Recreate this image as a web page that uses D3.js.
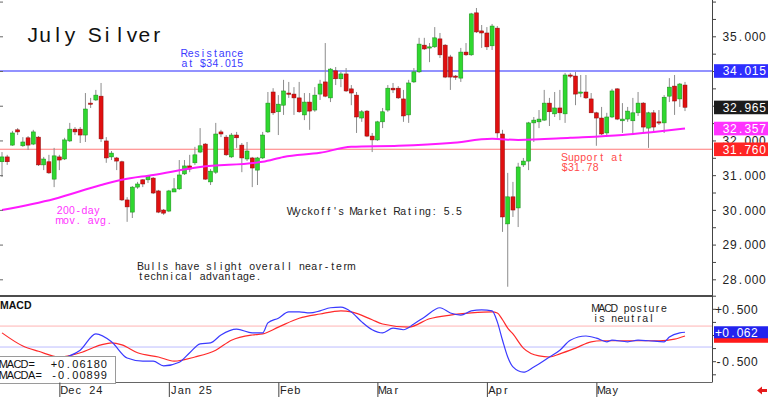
<!DOCTYPE html>
<html><head><meta charset="utf-8">
<script src="https://cdn.jsdelivr.net/npm/d3@7"></script>
<style>
body{margin:0;background:#fff}
svg{display:block;font-family:"Liberation Sans",Arial,sans-serif}
</style></head><body>
<svg id="chart" width="768" height="397"></svg>
<script>
// small attr helper, like jetpack's .at()
d3.selection.prototype.at = function(o){
  for (var k in o) this.attr(k, o[k])
  return this
}
// the chart software sets text in fixed-width cells: one x per character, glyph centred in it
d3.selection.prototype.mono = function(str, x0, adv){
  return this.attr('x', Array.from(str).map((c, k) => (x0 + adv * (k + 0.5)).toFixed(1)).join(' '))
    .attr('text-anchor', 'middle').text(str)
}

// daily candles, oldest first
var opens  = [31.40,31.54,31.88,32.32,31.86,32.09,31.91,32.11,31.31,31.40,30.90,31.54,31.48,32.00,32.34,32.34,32.17,33.09,33.18,33.29,32.00,31.54,31.51,31.40,30.30,29.95,30.67,30.88,30.88,30.93,30.56,30.01,29.98,30.53,30.62,31.05,31.28,31.37,31.68,31.91,30.82,31.10,32.26,32.11,31.54,32.17,31.88,31.48,31.51,31.16,31.51,32.26,33.41,32.84,33.03,33.38,33.35,33.24,32.75,33.12,32.89,33.35,33.70,33.24,34.02,33.79,33.93,33.50,33.32,32.66,32.86,32.14,32.03,32.55,32.89,33.52,33.52,33.21,32.75,33.70,33.99,34.76,34.68,34.71,34.94,34.76,34.42,33.87,33.81,34.56,34.48,35.69,35.17,35.11,34.74,35.25,32.20,29.61,30.39,30.07,31.31,31.42,32.52,32.55,32.60,33.09,32.78,32.95,32.78,33.90,33.87,33.38,33.41,33.21,32.81,32.66,32.23,32.69,33.50,32.58,32.63,32.58,32.81,33.09,32.37,32.81,32.55,32.52,33.29,33.58,33.21,33.61]
var highs  = [31.68,31.60,32.29,32.37,32.11,32.14,32.32,32.14,31.54,31.60,31.80,31.60,32.09,32.52,32.40,32.40,33.38,33.24,33.47,33.67,32.11,31.71,31.54,31.43,30.38,30.70,30.82,30.90,31.02,30.96,30.59,30.04,30.59,30.93,31.45,31.45,31.60,31.83,32.37,31.94,31.19,32.52,32.32,32.17,32.23,32.26,31.94,31.97,31.54,31.54,32.26,33.41,33.52,33.32,33.76,33.70,33.55,33.70,33.38,33.38,33.55,33.76,34.82,34.10,34.13,33.99,34.10,33.61,33.41,32.89,32.89,32.23,32.58,32.95,33.61,33.67,33.58,33.47,33.76,34.10,34.97,34.97,34.82,35.28,35.11,34.79,34.48,33.90,34.68,34.82,35.69,35.83,35.34,35.28,35.37,35.31,32.32,31.08,30.82,31.37,31.51,32.55,32.69,32.89,33.47,33.24,33.41,33.47,33.96,33.96,33.99,33.90,33.90,33.38,32.84,32.98,32.81,33.50,33.52,33.09,32.98,33.24,33.41,33.12,32.84,32.89,32.89,33.32,33.81,33.90,33.67,33.70]
var lows   = [30.96,31.31,31.86,32.17,31.83,31.74,31.88,31.28,31.16,31.05,30.67,31.16,31.45,31.97,32.17,31.94,31.97,32.95,33.15,31.97,31.37,31.45,31.16,30.27,29.67,29.78,30.62,30.67,30.79,30.47,29.92,29.87,29.95,30.53,30.59,31.02,31.10,31.31,31.65,30.88,30.73,31.05,32.11,31.57,31.51,31.80,31.10,31.42,30.67,30.73,31.48,32.23,32.75,32.17,32.75,33.24,32.75,32.81,32.60,32.32,32.84,33.18,33.26,33.12,33.61,33.55,33.41,33.03,32.23,32.55,32.11,31.68,32.00,32.37,32.84,33.38,33.21,32.55,32.52,33.67,33.96,34.62,34.27,34.68,34.39,33.81,33.47,33.76,33.70,34.45,34.45,35.11,34.68,34.62,34.62,32.09,29.38,27.80,29.81,29.52,31.25,31.16,31.97,32.37,32.58,32.43,32.69,32.60,32.52,33.81,33.03,33.26,33.21,32.81,31.86,32.17,32.17,32.66,32.60,32.23,32.55,32.17,32.72,32.23,31.80,32.23,32.46,32.23,33.12,32.75,32.98,32.86]
var closes = [31.54,31.40,32.23,32.26,31.97,31.88,32.26,31.31,31.48,31.08,31.57,31.45,32.03,32.34,32.26,32.17,32.92,33.06,33.32,32.06,31.51,31.65,31.42,30.30,30.10,30.67,30.76,30.76,30.99,30.50,29.95,29.92,30.56,30.62,31.02,31.28,31.19,31.60,31.86,30.90,31.13,32.20,32.20,31.60,32.17,32.09,31.51,31.71,31.22,31.51,32.17,33.09,32.81,33.06,33.44,33.35,33.24,32.84,33.12,32.86,33.32,33.64,33.29,34.07,33.79,33.93,33.44,33.38,32.69,32.84,32.14,32.03,32.55,32.84,33.52,33.47,33.24,32.72,33.67,33.99,34.79,34.65,34.71,34.97,34.48,33.84,33.84,33.84,34.56,34.48,35.66,35.14,35.11,34.71,35.31,32.23,29.81,30.39,30.01,31.25,31.42,32.52,32.60,32.63,33.09,32.84,32.95,32.81,33.90,33.87,33.35,33.41,33.24,32.81,32.66,32.20,32.69,33.44,32.63,32.63,32.86,32.81,33.09,32.40,32.81,32.40,32.52,33.26,33.55,33.15,33.64,32.97]

// 200-day moving average read at candle indices [index, value]
var maPts = [[0,30.01],[10,30.33],[19,30.73],[23,30.88],[29,31.02],[38,31.25],[50,31.40],[54,31.54],[61,31.66],[67,31.83],[76,31.86],[86,31.94],[94,32.06],[99,32.03],[109,32.09],[119,32.17],[125,32.26],[131,32.36]]

// MACD and its signal line [index, value]
var macdPts = [[0,-0.47],[4,-0.58],[8,-0.62],[12,-0.43],[15,-0.28],[18,0.03],[21,-0.12],[24,-0.43],[27,-0.49],[29,-0.49],[31,-0.58],[34,-0.51],[36,-0.33],[38,-0.16],[40,-0.14],[42,0.01],[45,0.12],[48,0.05],[50,0.05],[51,0.24],[53,0.33],[55,0.45],[57,0.45],[59,0.43],[61,0.47],[63,0.53],[65,0.54],[67,0.45],[69,0.26],[71,0.11],[73,0.05],[75,0.14],[77,0.11],[79,0.22],[81,0.35],[84,0.53],[86,0.43],[88,0.39],[90,0.47],[92,0.49],[94,0.47],[95,0.26],[96,-0.09],[97,-0.41],[98,-0.60],[100,-0.70],[102,-0.60],[105,-0.41],[107,-0.28],[109,-0.09],[112,-0.01],[114,-0.05],[116,-0.12],[117,-0.09],[120,-0.12],[122,-0.09],[124,-0.10],[127,-0.12],[128,-0.03],[130,0.05],[131,0.062]]
var signalPts = [[0,0.05],[4,-0.20],[7,-0.30],[11,-0.41],[15,-0.33],[19,-0.18],[21,-0.14],[23,-0.18],[26,-0.33],[30,-0.41],[33,-0.49],[37,-0.41],[41,-0.28],[44,-0.09],[48,0.01],[50,0.03],[53,0.16],[57,0.33],[61,0.41],[65,0.47],[67,0.45],[71,0.30],[73,0.22],[78,0.16],[82,0.32],[86,0.39],[90,0.43],[94,0.45],[95,0.43],[96,0.30],[97,0.14],[98,0.03],[100,-0.24],[103,-0.39],[105,-0.41],[107,-0.35],[110,-0.24],[113,-0.12],[115,-0.10],[118,-0.10],[122,-0.10],[126,-0.10],[129,-0.07],[131,-0.01]]
var macdBands = [0.18, -0.22]

var monthTicks = [{i:11, label:'Dec 24'}, {i:32, label:'Jan 25'}, {i:53, label:'Feb'}, {i:72, label:'Mar'}, {i:93, label:'Apr'}, {i:114, label:'May'}]
var priceLabels = [35, 32, 31, 30, 29, 28]   // 34 and 33 sit under the value boxes
var macdLabels = [0.5, -0.5]

var resistance = 34.015, support = 31.76
var lastClose = 32.965, lastMA = 32.357
var macdNow = 0.06180, macdaNow = -0.00899

var fmtL = d3.formatLocale({decimal: '.', thousands: ',', grouping: [3], currency: ['$', ''], minus: '-'}).format
var f3 = fmtL('.3f'), fs3 = fmtL('+.3f'), fs5 = fmtL('+.5f'), f5 = fmtL('.5f')

var plotR = 712, mainBottom = 296, macdBottom = 382.5
var svg = d3.select('#chart')

var candles = opens.map((o, i) => ({i: i, o: o, h: highs[i], l: lows[i], c: closes[i]}))
var x = d3.scaleLinear().domain([0, candles.length - 1]).range([2, 685])
var y = d3.scaleLinear().domain([28, 35]).range([279.8, 36.8])
var ym = d3.scaleLinear().domain([-0.5, 0.5]).range([361.7, 309.3])

// resistance / support
svg.append('line').at({x1: 0, x2: plotR, y1: y(resistance), y2: y(resistance), stroke: '#6e6eff', 'stroke-width': 1.6})
svg.append('line').at({x1: 0, x2: plotR, y1: y(support), y2: y(support), stroke: '#ff7a7a', 'stroke-width': 1.1})

// candles
var cs = svg.append('g').selectAll('g').data(candles).join('g')
cs.append('line')
  .attr('x1', d => x(d.i)).attr('x2', d => x(d.i))
  .attr('y1', d => y(d.h)).attr('y2', d => y(d.l))
  .attr('stroke', '#8c8c8c').attr('stroke-width', 1)
cs.append('rect')
  .attr('x', d => x(d.i) - 2)
  .attr('width', 4)
  .attr('y', d => y(Math.max(d.o, d.c)))
  .attr('height', d => Math.max(1.2, Math.abs(y(d.o) - y(d.c))))
  .attr('fill', d => d.c >= d.o ? '#2fd82f' : '#e01010')
  .attr('stroke', d => d.c >= d.o ? '#178a17' : '#8a0a0a')
  .attr('stroke-width', 0.5)

// 200-day MA
svg.append('path').datum(maPts)
  .attr('d', d3.line().x(d => x(d[0])).y(d => y(d[1])).curve(d3.curveMonotoneX))
  .attr('fill', 'none').attr('stroke', '#ff1aff').attr('stroke-width', 2)

// frame
svg.append('line').at({x1: 0, x2: plotR, y1: mainBottom, y2: mainBottom, stroke: '#111', 'stroke-width': 1.6})
svg.append('line').at({x1: 0, x2: plotR, y1: macdBottom, y2: macdBottom, stroke: '#666', 'stroke-width': 1})
svg.append('line').at({x1: plotR + 0.5, x2: plotR + 0.5, y1: 0, y2: macdBottom, stroke: '#444', 'stroke-width': 1})

// price axis
svg.selectAll('.ptick').data(d3.range(28, 36.01, 0.5)).join('line')
  .attr('x1', plotR).attr('x2', plotR + 4)
  .attr('y1', d => y(d)).attr('y2', d => y(d))
  .attr('stroke', '#444')
svg.selectAll('.ltick').data(d3.range(28, 36.01, 1)).join('line')
  .attr('x1', 0).attr('x2', 3)
  .attr('y1', d => y(d)).attr('y2', d => y(d))
  .attr('stroke', '#666')
priceLabels.forEach(v => {
  svg.append('text').at({y: y(v), dy: '0.36em', 'font-size': '12px', fill: '#222'}).mono(f3(v), 722.3, 7.3)
})

function valueBox(v, scale, bg, label){
  var g = svg.append('g').attr('transform', 'translate(714,' + scale(v) + ')')
  g.append('rect').at({x: 0, y: -6.8, width: 54, height: 13.6, fill: bg})
  if (label) g.append('text').at({y: 0, dy: '0.36em', fill: '#fff', 'font-size': '12px'}).mono(label, 8.3, 7.3)
}
valueBox(resistance, y, '#2e2eff', f3(resistance))
valueBox(lastClose, y, '#1c1c1c', f3(lastClose))
valueBox(lastMA, y, '#ff33ff', f3(lastMA))
valueBox(support, y, '#ff2424', f3(support))

// annotations, fixed 6.2px cells
function note(lines, x0, y0, color){
  var t = svg.append('text').at({y: y0, fill: color, 'font-size': '10.5px'})
  lines.forEach((s, k) => t.append('tspan').attr('dy', k ? 10 : 0).mono(s, x0, 6.2))
}
svg.append('text').at({y: 42, 'font-size': '21px', fill: '#111'}).mono('July Silver', 26.5, 12.4)
note(['Resistance', 'at $34.015'], 181.3, 57, '#3b3bff')
note(['Support at', '$31.78'], 561.5, 160.5, '#ff4a4a')
note(['200-day', 'mov. avg.'], 56.5, 213.5, '#ff33ff')
note(["Wyckoff's Market Rating: 5.5"], 288.5, 215, '#222')
note(['Bulls have slight overall near-term', 'technical advantage.'], 137.5, 270, '#222')

// MACD panel
macdBands.forEach((b, k) => {
  svg.append('line').at({x1: 0, x2: plotR, y1: ym(b), y2: ym(b), stroke: k ? '#bcbcff' : '#ffb4b4', 'stroke-width': 1})
})
var ml = d3.line().x(d => x(d[0])).y(d => ym(d[1])).curve(d3.curveMonotoneX)
svg.append('path').datum(signalPts).attr('d', ml).attr('fill', 'none').attr('stroke', '#ff2a2a').attr('stroke-width', 1.2)
svg.append('path').datum(macdPts).attr('d', ml).attr('fill', 'none').attr('stroke', '#3a3aff').attr('stroke-width', 1.2)

svg.selectAll('.mtick').data(d3.range(-0.75, 0.76, 0.25)).join('line')
  .attr('x1', plotR).attr('x2', plotR + 4)
  .attr('y1', d => ym(d)).attr('y2', d => ym(d))
  .attr('stroke', '#444')
macdLabels.forEach(v => {
  svg.append('text').at({y: ym(v), dy: '0.36em', 'font-size': '12px', fill: '#222'}).mono(fs3(v), 714.8, 7.2)
})
valueBox(macdaNow, ym, '#ff1a1a', null)
var mb = svg.append('g').attr('transform', 'translate(714,' + ym(macdNow) + ')')
mb.append('rect').at({x: 0, y: -6, width: 54, height: 12, fill: '#2222ee'})
mb.append('text').at({y: 0, dy: '0.36em', fill: '#fff', 'font-size': '12px'}).mono(fs3(macdNow), 0.8, 7.2)

svg.append('text').at({x: 0, y: 309, 'font-size': '10.5px', 'font-weight': 'bold', fill: '#111'}).text('MACD')
note(['MACD posture', 'is neutral'], 592.5, 311.5, '#222')

// readout box
var rb = svg.append('g')
rb.append('rect').at({x: -1, y: 356.5, width: 116.5, height: 27, fill: '#fff', stroke: '#9a9a9a'})
var rows = [['MACD=', fs5(macdNow)], ['MACDA=', f5(macdaNow)]]
rows.forEach((r, k) => {
  rb.append('text').at({y: 368 + k * 10.8, 'font-size': '11px', fill: '#111'}).mono(r[0], -0.3, 7.1)
  rb.append('text').at({y: 368 + k * 10.8, 'font-size': '11px', fill: '#111'}).mono(r[1], 50.5, 7.1)
})

// month axis
var mt = svg.selectAll('.month').data(monthTicks).join('g')
  .attr('transform', d => 'translate(' + x(d.i) + ',0)')
mt.append('line').at({x1: 0.5, x2: 0.5, y1: macdBottom, y2: 397, stroke: '#444'})
mt.each(function(d){
  d3.select(this).append('text').at({y: 394, 'font-size': '11px', fill: '#222'}).mono(d.label, 1.5, 7)
})

// little red arrow, bottom right
svg.append('path').attr('d', 'M757,390.5 L762,386.5 L762,389 L767,389 L767,392 L762,392 L762,394.5 Z').attr('fill', '#e51b1b')
</script>
</body></html>
